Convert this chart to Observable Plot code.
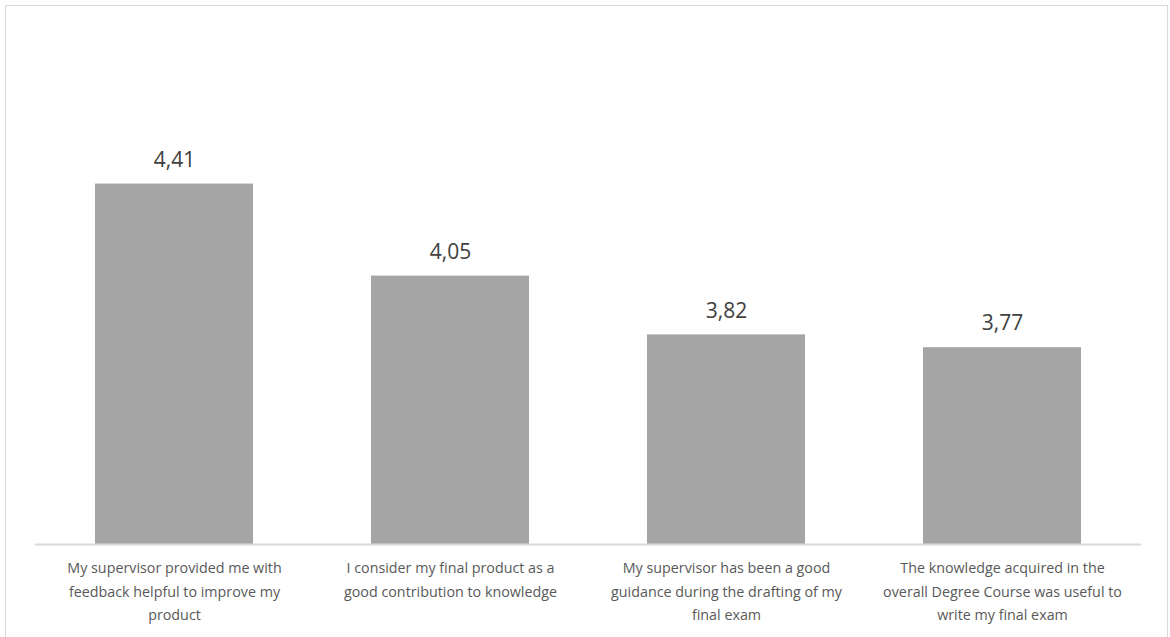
<!DOCTYPE html>
<html>
<head>
<meta charset="utf-8">
<script src="https://cdn.jsdelivr.net/npm/d3@7"></script>
<script src="https://cdn.jsdelivr.net/npm/@observablehq/plot@0.6"></script>
<style>
  html, body { margin: 0; padding: 0; background: #fff; overflow: hidden; }
  #box { position: absolute; left: 5px; top: 5px; width: 1163px; height: 700px; border: 1px solid #d9d9d9; box-sizing: border-box; }
  #chart { position: absolute; left: 0; top: 0; }
</style>
</head>
<body>
<div id="box"></div>
<div id="chart"></div>
<script>
const categories = [
  "My supervisor provided me with feedback helpful to improve my product",
  "I consider my final product as a good contribution to knowledge",
  "My supervisor has been a good guidance during the drafting of my final exam",
  "The knowledge acquired in the overall Degree Course was useful to write my final exam"
];
const values = [4.41, 4.05, 3.82, 3.77];
const tickLabels = [
  "My supervisor provided me with\nfeedback helpful to improve my\nproduct",
  "I consider my final product as a\ngood contribution to knowledge",
  "My supervisor has been a good\nguidance during the drafting of my\nfinal exam",
  "The knowledge acquired in the\noverall Degree Course was useful to\nwrite my final exam"
];
const yDomain = [3, 4.6];

const data = categories.map((c, i) => ({category: c, value: values[i], label: tickLabels[i]}));
const labelOf = new Map(data.map(d => [d.category, d.label]));
const fmt = v => v.toFixed(2).replace(".", ",");

const chart = Plot.plot({
  width: 1170,
  height: 637,
  marginLeft: 35,
  marginRight: 29,
  marginTop: 135,
  marginBottom: 93,
  style: {fontFamily: "'Open Sans', sans-serif", background: "transparent"},
  x: {domain: categories, paddingInner: 0.429, paddingOuter: 0.2145, label: null},
  y: {domain: yDomain, axis: null},
  marks: [
    Plot.barY(data, {x: "category", y1: () => yDomain[0], y2: "value", fill: "#a5a5a5"}),
    Plot.ruleY([yDomain[0]], {stroke: "#d9d9d9", strokeWidth: 2}),
    Plot.text(data, {x: "category", y: "value", text: d => fmt(d.value), lineAnchor: "middle", dy: -24, fontSize: 21, fill: "#404040"}),
    Plot.axisX({
      tickSize: 0,
      tickPadding: 12,
      tickFormat: c => labelOf.get(c),
      fontSize: 14.3,
      lineHeight: 1.64,
      fill: "#595959",
      label: null
    })
  ]
});
document.getElementById("chart").appendChild(chart);
</script>
</body>
</html>
